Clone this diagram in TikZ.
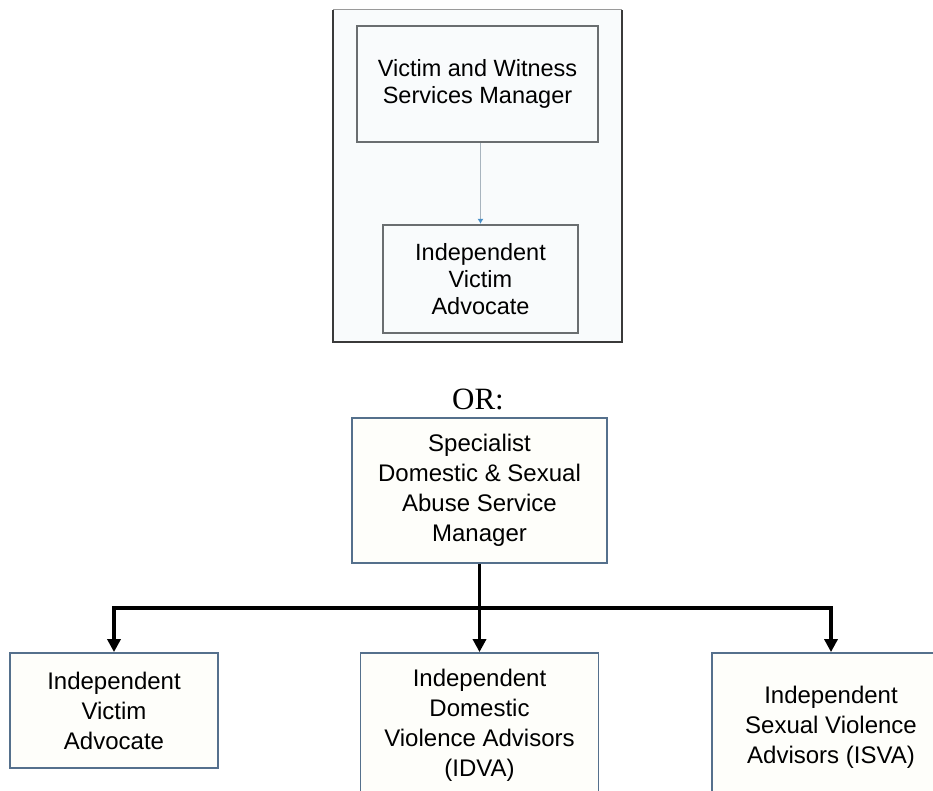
\documentclass[tikz,border=0pt]{standalone}
\usepackage{fontspec}
\setmainfont{Liberation Serif}
\setsansfont{Liberation Sans}
\usetikzlibrary{arrows.meta,calc}
\definecolor{framedark}{HTML}{3A3A3A}
\definecolor{framelight}{HTML}{9A9A9A}
\definecolor{oldbox}{HTML}{6A6E70}
\definecolor{oldfill}{HTML}{F9FBFC}
\definecolor{newbox}{HTML}{55708C}
\definecolor{newfill}{HTML}{FEFEFA}
\definecolor{thinline}{HTML}{A8B4BE}
\definecolor{markblue}{HTML}{4A90C8}
\tikzset{
  oldnode/.style={draw=oldbox, line width=2.2pt, fill=oldfill, inner sep=0pt,
    align=center, font=\sffamily\fontsize{23.5}{27}\selectfont},
  newnode/.style={draw=newbox, line width=1.8pt, fill=newfill, inner sep=0pt,
    align=center, font=\sffamily\fontsize{24}{30}\selectfont},
  thick arrow/.style={line width=3.5pt, black, -{Triangle[width=13pt,length=13pt]}}
}
\begin{document}
\begin{tikzpicture}[x=1pt,y=-1pt]
\clip (0,0) rectangle (933,791);
\fill[white] (0,0) rectangle (933,791);
% framed screenshot
\fill[oldfill] (333,10) rectangle (622,342);
\draw[framelight, line width=1pt] (333,10) -- (622,10);
\draw[framedark, line width=2pt] (333,10) -- (333,342) -- (622,342) -- (622,10);
\node[oldnode, minimum width=241pt, minimum height=116pt] (b1) at (477.5,84)
  {Victim and Witness\\Services Manager};
\node[oldnode, minimum width=195pt, minimum height=108pt] (b2) at (480.5,279)
  {Independent\\Victim\\Advocate};
\draw[thinline, line width=1pt, -{Latex[length=5pt,width=6pt,color=markblue]}] (b2.north |- b1.south) -- (b2.north);
% OR
\node[font=\fontsize{31}{36}\selectfont, inner sep=0pt] (or) at (478,399) {OR:};
% lower chart
\node[newnode, minimum width=255pt, minimum height=145pt] (b3) at (479.5,490.5)
  {Specialist\\Domestic \& Sexual\\Abuse Service\\Manager};
\node[newnode, minimum width=208pt, minimum height=115pt] (b4) at (114,710.5)
  {Independent\\Victim\\Advocate};
\node[newnode, minimum width=238pt, minimum height=144pt] (b5) at (479.5,725)
  {Independent\\Domestic\\Violence Advisors\\(IDVA)};
\node[newnode, minimum width=238pt, minimum height=148pt] (b6) at (831,727)
  {Independent\\Sexual Violence\\Advisors (ISVA)};
\coordinate (bus) at (479.5,608);
\draw[thick arrow] (b3.south) -- (b5.north);
\draw[thick arrow] (bus) -| (b4.north);
\draw[thick arrow] (bus) -| (b6.north);
\end{tikzpicture}
\end{document}
